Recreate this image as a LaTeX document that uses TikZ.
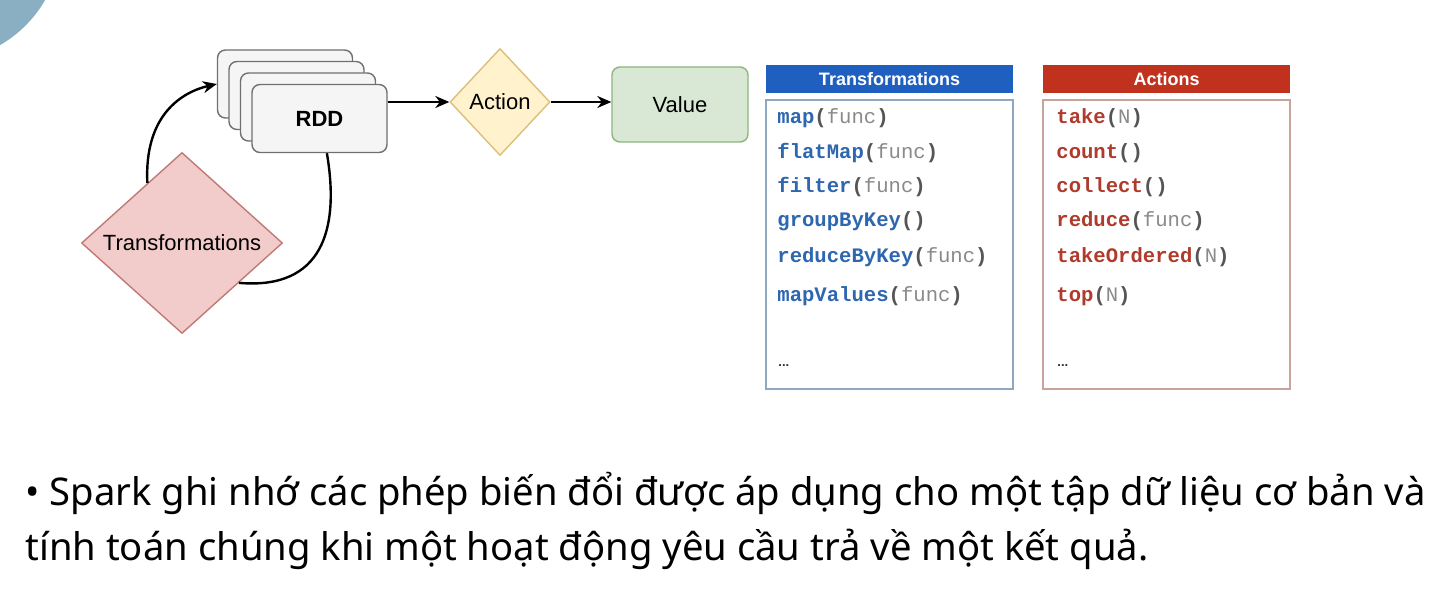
\documentclass[tikz,border=0pt]{standalone}
\usepackage{fontspec}
\setmainfont{Liberation Sans}
\newfontfamily\bodyfont{Noto Sans}
\newfontfamily\codefont{Liberation Mono}
\usetikzlibrary{shapes.geometric,arrows.meta}
\definecolor{corner}{HTML}{8AAFC2}
\definecolor{rddfill}{HTML}{F5F5F5}
\definecolor{rdddraw}{HTML}{707070}
\definecolor{trfill}{HTML}{F2CCCA}
\definecolor{trdraw}{HTML}{C07A76}
\definecolor{acfill}{HTML}{FFF2CC}
\definecolor{acdraw}{HTML}{D9C07A}
\definecolor{vafill}{HTML}{D8E8D5}
\definecolor{vadraw}{HTML}{8DB57E}
\definecolor{bluehead}{HTML}{1F5FBF}
\definecolor{redhead}{HTML}{C0321E}
\definecolor{blueborder}{HTML}{8FA8C2}
\definecolor{redborder}{HTML}{C9A29C}
\definecolor{fnblue}{HTML}{2E66B0}
\definecolor{fnred}{HTML}{B03A2B}
\definecolor{argc}{HTML}{8A8A8A}
\definecolor{parc}{HTML}{555555}
\tikzset{
  rddbox/.style={draw=rdddraw, fill=rddfill, line width=0.7pt, rounded corners=4pt,
    minimum width=67.5pt, minimum height=34pt, inner sep=0pt},
  flowarrow/.style={draw=black, line width=1.2pt, -{Stealth[length=7pt,width=6pt]}},
  flowline/.style={draw=black, line width=1.2pt},
  lbl/.style={font=\fontsize{11pt}{13pt}\selectfont},
  head/.style={minimum width=123.5pt, minimum height=14pt, inner sep=0pt,
    text=white, font=\bfseries\fontsize{9pt}{10pt}\selectfont},
  listbox/.style={fill=white, line width=1pt, minimum width=123.5pt, minimum height=144.5pt, inner sep=0pt},
  code/.style={anchor=west, inner sep=0pt, font=\codefont\fontsize{10.3pt}{12pt}\selectfont},
  dots/.style={anchor=west, inner sep=0pt, font=\bfseries\fontsize{6.5pt}{7pt}\selectfont, text=black!80}
}
\newcommand{\bfn}[2]{\textcolor{fnblue}{\bfseries #1}\textcolor{parc}{\bfseries(}\textcolor{argc}{#2}\textcolor{parc}{\bfseries)}}
\newcommand{\rfn}[2]{\textcolor{fnred}{\bfseries #1}\textcolor{parc}{\bfseries(}\textcolor{argc}{#2}\textcolor{parc}{\bfseries)}}
\begin{document}
\begin{tikzpicture}[x=0.5pt,y=-0.5pt]
\useasboundingbox (0,0) rectangle (1444,598);
\fill[white] (0,0) rectangle (1444,598);
\begin{scope}
\clip (0,0) rectangle (1444,598);
\fill[corner] (-60,-60) circle[radius=121];
\end{scope}

% RDD stack
\node[rddbox] (rdd1) at (285,84) {};
\node[rddbox] (rdd2) at (296.5,95.5) {};
\node[rddbox] (rdd3) at (308,107) {};
\node[rddbox, lbl] (rdd4) at (319.5,118.5) {\bfseries RDD};

% Transformations diamond
\node[diamond, draw=trdraw, fill=trfill, line width=0.7pt, inner sep=0pt,
  minimum width=100.5pt, minimum height=90.5pt, lbl] (tr) at (182,243) {Transformations};

% Action diamond
\node[diamond, draw=acdraw, fill=acfill, line width=0.7pt, inner sep=0pt,
  minimum width=50pt, minimum height=53.5pt, lbl] (ac) at (500,102) {Action};

% Value
\node[draw=vadraw, fill=vafill, line width=0.7pt, rounded corners=4pt, inner sep=0pt,
  minimum width=68pt, minimum height=37.5pt, lbl] (va) at (680,104.5) {Value};

% connectors
\draw[flowarrow] (tr.120) .. controls (144,115) and (182,92) .. (rdd1.west);
\draw[flowline] (rdd4.-78) .. controls (340,230) and (322,290) .. (tr.-35);
\draw[flowarrow] (rdd4.east |- ac.west) -- (ac.west);
\draw[flowarrow] (ac.east) -- (va.west |- ac.east);

% Transformations table
\node[head, fill=bluehead] (th) at (889.5,79) {Transformations};
\node[listbox, draw=blueborder] (tb) at (889.5,244.5) {};
\node[code] (t1) at (777,118) {\bfn{map}{func}};
\node[code] (t2) at (777,153) {\bfn{flatMap}{func}};
\node[code] (t3) at (777,187) {\bfn{filter}{func}};
\node[code] (t4) at (777,221) {\bfn{groupByKey}{}};
\node[code] (t5) at (777,257) {\bfn{reduceByKey}{func}};
\node[code] (t6) at (777,296) {\bfn{mapValues}{func}};
\node[dots] (t7) at (778,366) {...};

% Actions table
\node[head, fill=redhead] (ah) at (1166.5,79) {Actions};
\node[listbox, draw=redborder] (ab) at (1166.5,244.5) {};
\node[code] (a1) at (1056,118) {\rfn{take}{N}};
\node[code] (a2) at (1056,153) {\rfn{count}{}};
\node[code] (a3) at (1056,187) {\rfn{collect}{}};
\node[code] (a4) at (1056,221) {\rfn{reduce}{func}};
\node[code] (a5) at (1056,257) {\rfn{takeOrdered}{N}};
\node[code] (a6) at (1056,296) {\rfn{top}{N}};
\node[dots] (a7) at (1057,366) {...};

% bottom text
\node[anchor=base west, inner sep=0pt, font=\bodyfont\fontsize{19.1pt}{22pt}\selectfont] (l1) at (25,505)
  {• Spark ghi nhớ các phép biến đổi được áp dụng cho một tập dữ liệu cơ bản và};
\node[anchor=base west, inner sep=0pt, font=\bodyfont\fontsize{19.1pt}{22pt}\selectfont] (l2) at (25,560)
  {tính toán chúng khi một hoạt động yêu cầu trả về một kết quả.};
\end{tikzpicture}
\end{document}
